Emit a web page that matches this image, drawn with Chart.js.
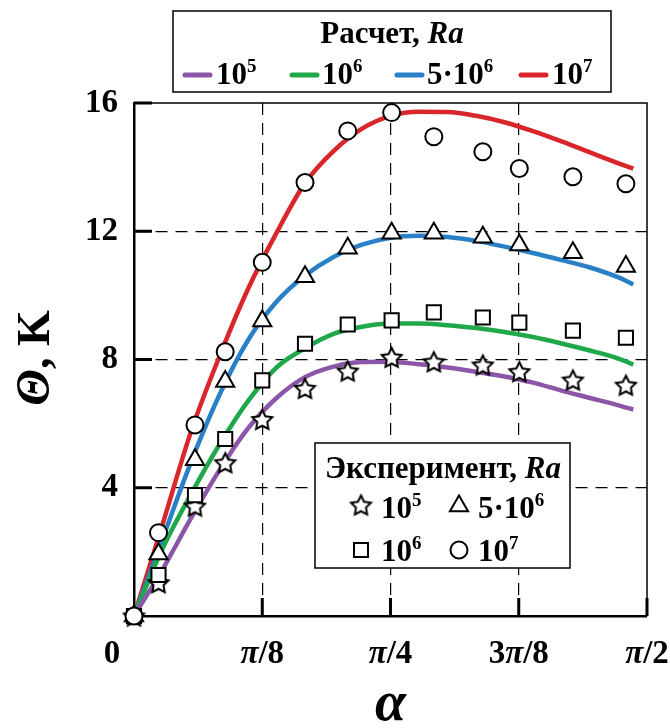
<!DOCTYPE html>
<html lang="ru">
<head>
  <meta charset="UTF-8" />
  <title>Θ(α), Ra</title>
  <script src="https://cdn.jsdelivr.net/npm/chart.js"></script>
  <style>
    html, body { margin: 0; padding: 0; background: #fff; }
    #wrap { width: 670px; height: 728px; }
  </style>
</head>
<body>
  <div id="wrap"><canvas id="thetaChart" width="670" height="728"></canvas></div>

  <script>
    // угол α в градусах, ось подписана в долях π
    const curveAlpha = [0, 5, 10, 15, 20, 25, 30, 35, 40, 45, 50, 55, 60, 65, 70, 75, 80, 85, 87.6];
    const calcRa1e5 = [0, 1.45, 3.05, 4.55, 5.85, 6.8, 7.45, 7.78, 7.92, 7.93, 7.85, 7.75, 7.62, 7.47, 7.28, 7.03, 6.8, 6.57, 6.44];
    const calcRa1e6 = [0, 2.1, 3.8, 5.35, 6.7, 7.75, 8.35, 8.8, 9.02, 9.12, 9.12, 9.07, 8.98, 8.86, 8.7, 8.5, 8.28, 8.03, 7.84];
    const calcRa5e6 = [0, 2.4, 4.8, 6.9, 8.6, 9.8, 10.62, 11.2, 11.58, 11.8, 11.86, 11.82, 11.7, 11.52, 11.32, 11.1, 10.87, 10.56, 10.34];
    const calcRa1e7 = [0, 2.85, 5.75, 8.1, 10.2, 11.95, 13.5, 14.5, 15.2, 15.6, 15.73, 15.72, 15.6, 15.4, 15.12, 14.8, 14.46, 14.12, 13.95];

    // эксперимент
    const expAlpha = [0, 4.3, 10.7, 16.0, 22.5, 30.0, 37.5, 45.2, 52.6, 61.2, 67.6, 77.0, 86.3];
    const expRa1e5 = [0, 1.04, 3.43, 4.78, 6.13, 7.1, 7.64, 8.07, 7.93, 7.83, 7.62, 7.36, 7.2];
    const expRa1e6 = [0, 1.28, 3.77, 5.52, 7.35, 8.49, 9.09, 9.22, 9.47, 9.31, 9.15, 8.9, 8.68];
    const expRa5e6 = [0, 1.93, 4.87, 7.31, 9.2, 10.58, 11.47, 11.94, 11.94, 11.81, 11.57, 11.33, 10.9];
    const expRa1e7 = [0, 2.6, 5.96, 8.24, 11.03, 13.52, 15.13, 15.7, 14.95, 14.48, 13.96, 13.7, 13.48];

    const xTickValues = [0, 22.5, 45, 67.5, 90];
    const xTickLabels = ['0', 'π/8', 'π/4', '3π/8', 'π/2'];
    const yTickValues = [0, 4, 8, 12, 16];

    const colors = { r5: '#8b55a8', r6: '#1fa84a', r56: '#2a80c6', r7: '#d9262b' };
    const FAM = '"Liberation Serif", "Times New Roman", serif';
    const B = 'bold 31px ' + FAM;
    const BI = 'italic bold 31px ' + FAM;
    const SUP = 'bold 19px ' + FAM;
    const TB = 'bold 33px ' + FAM;
    const TBI = 'italic bold 33px ' + FAM;

    const pairs = (xs, ys) => xs.map((x, i) => ({ x: x, y: ys[i] }));

    // пятиконечная звезда для маркера
    function makeStar(R) {
      const c = document.createElement('canvas');
      c.width = c.height = Math.ceil(R * 2 + 4);
      const g = c.getContext('2d');
      const cx = c.width / 2, cy = c.height / 2 + 1;
      g.beginPath();
      for (let i = 0; i < 10; i++) {
        const r = i % 2 ? R * 0.5 : R;
        const a = -Math.PI / 2 + i * Math.PI / 5;
        g.lineTo(cx + r * Math.cos(a), cy + r * Math.sin(a));
      }
      g.closePath();
      g.fillStyle = '#fff';
      g.fill();
      g.lineWidth = 2;
      g.strokeStyle = '#000';
      g.stroke();
      return c;
    }
    const starImg = makeStar(10.5);

    function drawRuns(c, runs, x, y, align) {
      let total = 0;
      runs.forEach(r => { c.font = r.font; r.w = c.measureText(r.t).width; total += r.w; });
      let cx = align === 'center' ? x - total / 2 : x;
      runs.forEach(r => { c.font = r.font; c.fillText(r.t, cx, y + (r.dy || 0)); cx += r.w; });
    }
    const pow = (base, p) => [{ t: base, font: B }, { t: p, font: SUP, dy: -12 }];

    function marker(c, kind, x, y) {
      if (kind === 'star') {
        c.drawImage(starImg, x - starImg.width / 2, y - starImg.height / 2);
        return;
      }
      c.save();
      c.lineWidth = 2;
      c.strokeStyle = '#000';
      c.fillStyle = '#fff';
      c.beginPath();
      if (kind === 'triangle') {
        const r = 10.5;
        for (let i = 0; i < 3; i++) {
          const a = -Math.PI / 2 + i * 2 * Math.PI / 3;
          c.lineTo(x + r * Math.cos(a), y + r * Math.sin(a));
        }
        c.closePath();
      } else if (kind === 'rect') {
        c.rect(x - 7, y - 7, 14, 14);
      } else {
        c.arc(x, y, 8.5, 0, Math.PI * 2);
      }
      c.fill();
      c.stroke();
      c.restore();
    }

    const decorations = {
      id: 'decorations',
      afterDraw(chart) {
        const c = chart.ctx;
        const a = chart.chartArea;
        const xs = chart.scales.x, ys = chart.scales.y;
        c.save();
        c.fillStyle = '#000';
        c.strokeStyle = '#000';

        // верхняя и правая рамка
        c.lineWidth = 1.5;
        c.beginPath();
        c.moveTo(a.left, a.top);
        c.lineTo(a.right, a.top);
        c.lineTo(a.right, a.bottom);
        c.stroke();

        // внутренние засечки
        c.lineWidth = 3;
        yTickValues.slice(1).forEach(v => {
          const y = ys.getPixelForValue(v);
          c.beginPath(); c.moveTo(a.left, y); c.lineTo(a.left + 18, y); c.stroke();
        });
        xTickValues.slice(1).forEach(v => {
          const x = xs.getPixelForValue(v);
          c.beginPath(); c.moveTo(x, a.bottom); c.lineTo(x, a.bottom - 18); c.stroke();
        });

        // подписи оси α
        c.textBaseline = 'middle';
        xTickValues.forEach((v, i) => {
          const lbl = xTickLabels[i];
          if (i === 0) {
            drawRuns(c, [{ t: lbl, font: TB }], xs.getPixelForValue(v) - 22, 654, 'center');
            return;
          }
          const k = lbl.indexOf('π');
          const runs = [];
          if (k > 0) runs.push({ t: lbl.slice(0, k), font: TB });
          runs.push({ t: 'π', font: TBI });
          runs.push({ t: lbl.slice(k + 1), font: TB });
          drawRuns(c, runs, xs.getPixelForValue(v), 654, 'center');
        });

        // названия осей
        drawRuns(c, [{ t: 'α', font: 'italic bold 56px ' + FAM }], (a.left + a.right) / 2, 706, 'center');
        c.save();
        c.translate(37, 358);
        c.rotate(-Math.PI / 2);
        drawRuns(c, [{ t: 'Θ', font: 'italic bold 48px ' + FAM }, { t: ', K', font: 'bold 46px ' + FAM }], 0, 0, 'center');
        c.restore();

        c.textBaseline = 'alphabetic';

        // легенда: расчет
        c.fillStyle = '#fff';
        c.fillRect(173, 11, 438, 81);
        c.lineWidth = 1.5;
        c.strokeRect(173, 11, 438, 81);
        c.fillStyle = '#000';
        drawRuns(c, [{ t: 'Расчет, ', font: B }, { t: 'Ra', font: BI }], 392, 43, 'center');
        const calcItems = [
          { col: colors.r5, x1: 185, tx: 216, runs: pow('10', '5') },
          { col: colors.r6, x1: 292, tx: 322, runs: pow('10', '6') },
          { col: colors.r56, x1: 397, tx: 427, runs: [{ t: '5·', font: B }].concat(pow('10', '6')) },
          { col: colors.r7, x1: 521, tx: 552, runs: pow('10', '7') }
        ];
        calcItems.forEach(it => {
          c.strokeStyle = it.col;
          c.lineWidth = 5;
          c.lineCap = 'round';
          c.beginPath(); c.moveTo(it.x1, 75); c.lineTo(it.x1 + 25, 75); c.stroke();
          drawRuns(c, it.runs, it.tx, 84, 'left');
        });
        c.lineCap = 'butt';
        c.strokeStyle = '#000';

        // легенда: эксперимент
        c.fillStyle = '#fff';
        c.fillRect(315, 443, 255, 125);
        c.lineWidth = 1.5;
        c.strokeRect(315, 443, 255, 125);
        c.fillStyle = '#000';
        drawRuns(c, [{ t: 'Эксперимент, ', font: B }, { t: 'Ra', font: BI }], 443, 478, 'center');
        marker(c, 'star', 361, 505);
        drawRuns(c, pow('10', '5'), 381, 518, 'left');
        marker(c, 'triangle', 459, 506);
        drawRuns(c, [{ t: '5·', font: B }].concat(pow('10', '6')), 478, 518, 'left');
        marker(c, 'rect', 361, 550);
        c.fillStyle = '#000';
        drawRuns(c, pow('10', '6'), 381, 561, 'left');
        marker(c, 'circle', 459, 550);
        c.fillStyle = '#000';
        drawRuns(c, pow('10', '7'), 478, 561, 'left');

        c.restore();
      }
    };

    function lineSet(ys, col) {
      return {
        type: 'line',
        data: pairs(curveAlpha, ys),
        borderColor: col,
        borderWidth: 4.5,
        pointRadius: 0,
        fill: false,
        cubicInterpolationMode: 'monotone',
        order: 5
      };
    }
    function pointSet(ys, style, radius, order) {
      return {
        type: 'scatter',
        data: pairs(expAlpha, ys),
        pointStyle: style,
        pointRadius: radius,
        pointBorderWidth: 2,
        pointBorderColor: '#000',
        pointBackgroundColor: '#fff',
        clip: false,
        order: order
      };
    }

    const gridColor = (ctx, max) =>
      (ctx.tick && (ctx.tick.value === 0 || ctx.tick.value === max)) ? 'rgba(0,0,0,0)' : '#000';

    new Chart(document.getElementById('thetaChart').getContext('2d'), {
      data: {
        datasets: [
          lineSet(calcRa1e5, colors.r5),
          lineSet(calcRa1e6, colors.r6),
          lineSet(calcRa5e6, colors.r56),
          lineSet(calcRa1e7, colors.r7),
          pointSet(expRa1e5, starImg, 10, 4),
          pointSet(expRa1e6, 'rect', 10, 3),
          pointSet(expRa5e6, 'triangle', 10.5, 2),
          pointSet(expRa1e7, 'circle', 8.5, 1)
        ]
      },
      options: {
        responsive: false,
        animation: false,
        events: [],
        layout: { padding: { top: 103, right: 23, left: 0, bottom: 0 } },
        plugins: { legend: { display: false }, tooltip: { enabled: false } },
        scales: {
          x: {
            type: 'linear',
            min: 0,
            max: 90,
            afterBuildTicks: s => { s.ticks = xTickValues.map(v => ({ value: v })); },
            afterFit: s => { s.height = 112; },
            ticks: { display: false },
            grid: { color: ctx => gridColor(ctx, 90), lineWidth: 1.2, drawTicks: false },
            border: { display: true, color: '#000', width: 2.5, dash: [12, 8] }
          },
          y: {
            type: 'linear',
            min: 0,
            max: 16,
            afterBuildTicks: s => { s.ticks = yTickValues.map(v => ({ value: v })); },
            afterFit: s => { s.width = 134; },
            ticks: {
              padding: 16,
              color: '#000',
              font: { family: FAM, size: 33, weight: 'bold' },
              callback: v => (v === 0 ? '' : v)
            },
            grid: { color: ctx => gridColor(ctx, 16), lineWidth: 1.2, drawTicks: false },
            border: { display: true, color: '#000', width: 2.5, dash: [12, 8] }
          }
        }
      },
      plugins: [decorations]
    });
  </script>
</body>
</html>
